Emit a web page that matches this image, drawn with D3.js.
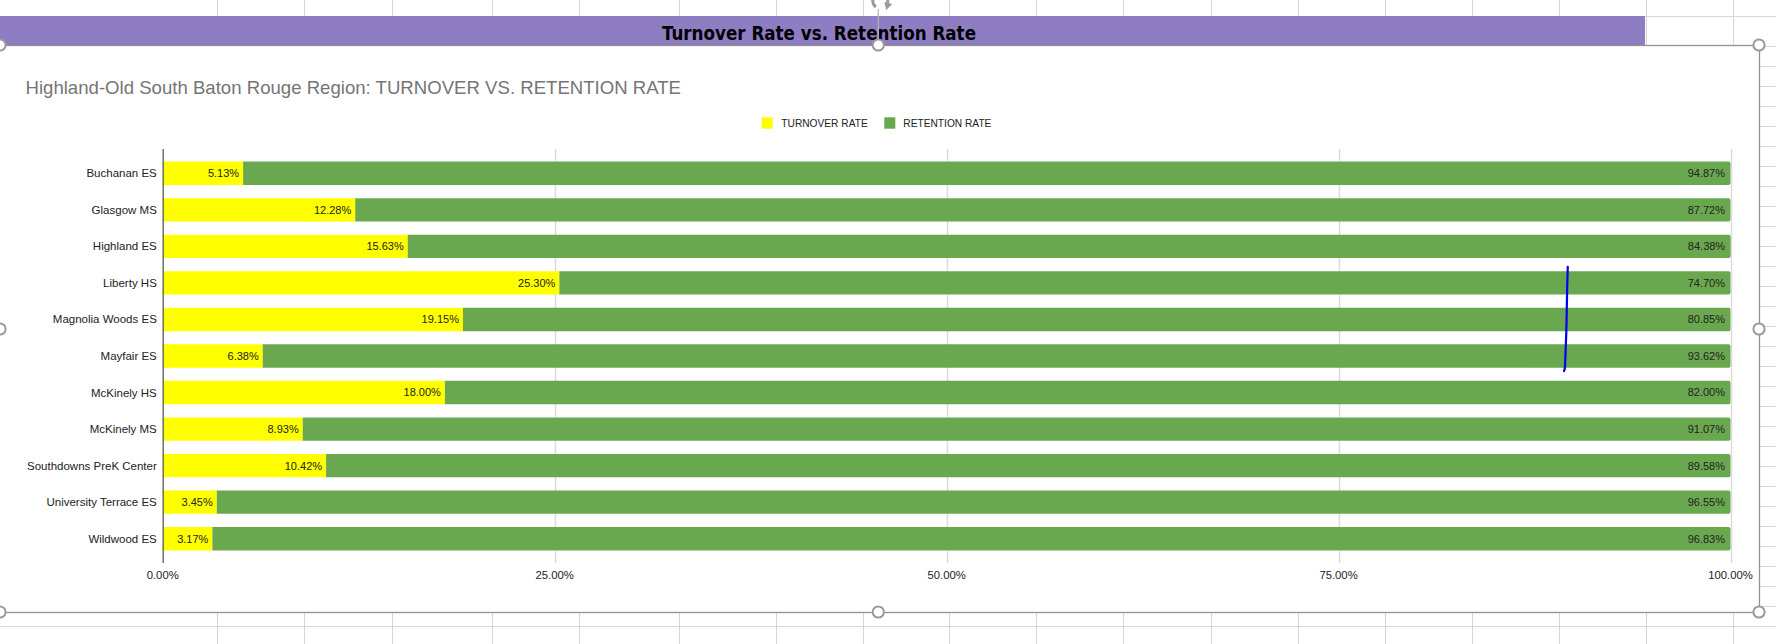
<!DOCTYPE html>
<html>
<head>
<meta charset="utf-8">
<script src="https://cdn.jsdelivr.net/npm/d3@7"></script>
<style>
  html, body { margin: 0; padding: 0; background: #fff; }
  svg { display: block; }
</style>
</head>
<body>
<svg id="chart" width="1776" height="644"></svg>
<script>
// ---------- data ----------
const categories = ["Buchanan ES", "Glasgow MS", "Highland ES", "Liberty HS", "Magnolia Woods ES",
  "Mayfair ES", "McKinely HS", "McKinely MS", "Southdowns PreK Center", "University Terrace ES", "Wildwood ES"];
const turnoverRate = [5.13, 12.28, 15.63, 25.30, 19.15, 6.38, 18.00, 8.93, 10.42, 3.45, 3.17];
const retentionRate = [94.87, 87.72, 84.38, 74.70, 80.85, 93.62, 82.00, 91.07, 89.58, 96.55, 96.83];
const seriesNames = ["TURNOVER RATE", "RETENTION RATE"];
const tickValues = [0, 25, 50, 75, 100];
const bannerTitle = "Turnover Rate vs. Retention Rate";
const chartTitle = "Highland-Old South Baton Rouge Region: TURNOVER VS. RETENTION RATE";
// hand-drawn annotation stroke (value %, offset from top of "Liberty HS" band in px)
const annotationValues = [89.62, 89.58, 89.53, 89.46, 89.43, 89.38];
const annotationOffsets = [-4.5, 18.8, 58.8, 88.8, 97.3, 99.8];

// ---------- layout / style ----------
const W = 1776, H = 644;
const colors = { turnover: "#ffff00", retention: "#6aa84f" };
const sheetCols = [217.3, 304.3, 391.7, 492, 579, 678.5, 775.5, 862.5, 949, 1036, 1123, 1210.5, 1297.5, 1384.5, 1471.8, 1559, 1646, 1733];
const chartBox = { x0: -2, y0: 45, x1: 1759, y1: 612 };
const plot = { left: 162.7, right: 1730.5, top: 149, bottom: 563 };

const svg = d3.select("#chart");
svg.append("rect").attr("width", W).attr("height", H).attr("fill", "#fff");

// spreadsheet grid
const grid = svg.append("g").attr("stroke", "#d6d6d6").attr("stroke-width", 1);
sheetCols.forEach(x => grid.append("line").attr("x1", Math.round(x) + 0.5).attr("x2", Math.round(x) + 0.5)
  .attr("y1", 0).attr("y2", H));
grid.append("line").attr("x1", 0).attr("x2", W).attr("y1", 16.5).attr("y2", 16.5);
for (let y = 46.5; y < H; y += 20) {
  grid.append("line").attr("x1", 0).attr("x2", W).attr("y1", y).attr("y2", y);
}

// banner
svg.append("rect").attr("x", 0).attr("y", 16).attr("width", 1645).attr("height", 29).attr("fill", "#8e7dc3");
svg.append("text").attr("x", 819).attr("y", 39.5).attr("text-anchor", "middle")
  .attr("font-family", "'Liberation Sans Narrow', 'DejaVu Sans Condensed', Arial, sans-serif")
  .attr("font-weight", "bold").attr("font-size", 19).attr("fill", "#000")
  .attr("textLength", 314).attr("lengthAdjust", "spacingAndGlyphs")
  .text(bannerTitle);

// chart frame
svg.append("rect").attr("x", chartBox.x0 + 0.5).attr("y", chartBox.y0 + 0.5)
  .attr("width", chartBox.x1 - chartBox.x0).attr("height", chartBox.y1 - chartBox.y0)
  .attr("fill", "#fff").attr("stroke", "#929292").attr("stroke-width", 1.3);

const font = "'Liberation Sans', Arial, Helvetica, sans-serif";

// chart title
svg.append("text").attr("x", 25.5).attr("y", 93.5).attr("font-family", font)
  .attr("font-size", 18.6).attr("fill", "#757575").text(chartTitle);

// scales
const x = d3.scaleLinear().domain([0, 100]).range([plot.left, plot.right]);
const y = d3.scaleBand().domain(categories).range([plot.top, plot.bottom])
  .paddingInner(0.36).paddingOuter(0.345);

// gridlines
svg.append("g").selectAll("line").data(tickValues.filter(v => v > 0)).join("line")
  .attr("x1", d => Math.round(x(d)) + 0.5).attr("x2", d => Math.round(x(d)) + 0.5)
  .attr("y1", plot.top).attr("y2", plot.bottom)
  .attr("stroke", "#dcdcdc").attr("stroke-width", 1.5);

// x tick labels
svg.append("g").selectAll("text").data(tickValues).join("text")
  .attr("x", d => x(d)).attr("y", 579).attr("text-anchor", "middle")
  .attr("font-family", font).attr("font-size", 11.3).attr("fill", "#222")
  .text(d => d3.format(".2f")(d) + "%");

// stacked data
const rows = categories.map((c, i) => ({ cat: c, turnover: turnoverRate[i], retention: retentionRate[i] }));
const stack = d3.stack().keys(["turnover", "retention"])(rows);

function barPath(x0, x1, y0, h, rRight) {
  const r = Math.min(rRight, (x1 - x0) / 2);
  return `M${x0},${y0}H${x1 - r}Q${x1},${y0} ${x1},${y0 + r}V${y0 + h - r}Q${x1},${y0 + h} ${x1 - r},${y0 + h}H${x0}Z`;
}

const bars = svg.append("g");
stack.forEach(layer => {
  bars.append("g").attr("fill", colors[layer.key]).selectAll("path").data(layer).join("path")
    .attr("d", d => barPath(x(d[0]), x(d[1]), y(d.data.cat), y.bandwidth(), layer.key === "retention" ? 2 : 0));
});

// value labels
stack.forEach(layer => {
  svg.append("g").selectAll("text").data(layer).join("text")
    .attr("x", d => x(d[1]) - (layer.key === "retention" ? 5.5 : 4))
    .attr("y", d => y(d.data.cat) + y.bandwidth() / 2 + 3.9)
    .attr("text-anchor", "end").attr("font-family", font).attr("font-size", 11).attr("fill", "#222")
    .text(d => d3.format(".2f")(d.data[layer.key]) + "%");
});

// y axis line and labels
svg.append("line").attr("x1", plot.left + 0.5).attr("x2", plot.left + 0.5)
  .attr("y1", plot.top).attr("y2", plot.bottom).attr("stroke", "#666").attr("stroke-width", 1.4);
svg.append("g").selectAll("text").data(categories).join("text")
  .attr("x", 156.8).attr("y", d => y(d) + y.bandwidth() / 2 + 4)
  .attr("text-anchor", "end").attr("font-family", font).attr("font-size", 11.5).attr("fill", "#222")
  .text(d => d);

// legend
const legend = svg.append("g");
const legendItems = [
  { name: seriesNames[0], color: colors.turnover, sx: 761.7, tx: 781.3 },
  { name: seriesNames[1], color: colors.retention, sx: 884.3, tx: 903.3 }
];
legendItems.forEach(it => {
  legend.append("rect").attr("x", it.sx).attr("y", 117.3).attr("width", 11).attr("height", 11.4).attr("fill", it.color);
  legend.append("text").attr("x", it.tx).attr("y", 127).attr("font-family", font)
    .attr("font-size", 10.2).attr("fill", "#222").text(it.name);
});

// hand-drawn annotation
const annoLine = d3.line().curve(d3.curveCatmullRom)
  .x((d, i) => x(annotationValues[i])).y((d, i) => y("Liberty HS") + annotationOffsets[i]);
svg.append("path").datum(annotationValues).attr("d", annoLine)
  .attr("fill", "none").attr("stroke", "#0000ee").attr("stroke-width", 2.2).attr("stroke-linecap", "round");

// selection handles
const midX = 878.3, midY = 329;
svg.append("line").attr("x1", midX).attr("x2", midX).attr("y1", 9).attr("y2", 40)
  .attr("stroke", "#b4b4b4").attr("stroke-width", 1.2);
// rotate icon
svg.append("path").attr("d", d3.arc()({ innerRadius: 6, outerRadius: 9, startAngle: -2.5, endAngle: 2.1 }))
  .attr("transform", `translate(${midX + 2},1)`).attr("fill", "#9a9a9a");
svg.append("path").attr("d", `M${midX + 6},2 l8,2 l-6,6 z`).attr("fill", "#9a9a9a");
const handles = [[0, 45], [midX, 45], [1759, 45], [0, midY], [1759, midY], [0, 612], [midX, 612], [1759, 612]];
svg.append("g").selectAll("circle").data(handles).join("circle")
  .attr("cx", d => d[0]).attr("cy", d => d[1]).attr("r", 5.6)
  .attr("fill", "#fff").attr("stroke", "#9a9a9a").attr("stroke-width", 2);
</script>
</body>
</html>
